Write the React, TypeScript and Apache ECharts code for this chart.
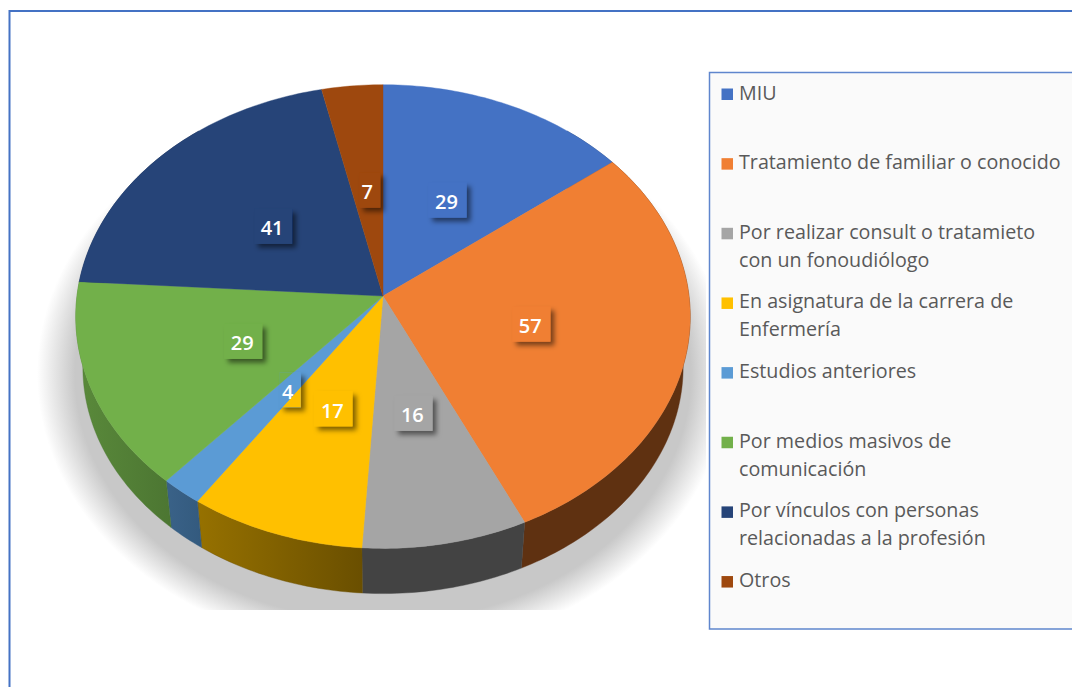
import React, { useEffect, useRef } from "react";
import * as echarts from "echarts";

const categories = [
  "MIU",
  "Tratamiento de familiar o conocido",
  "Por realizar consult o tratamieto\ncon un fonoudiólogo",
  "En asignatura de la carrera de\nEnfermería",
  "Estudios anteriores",
  "Por medios masivos de\ncomunicación",
  "Por vínculos con personas\nrelacionadas a la profesión",
  "Otros",
];
const values = [29, 57, 16, 17, 4, 29, 41, 7];
const topColors = ["#4472c4", "#f07f33", "#a5a5a5", "#ffc000", "#5b9bd5", "#72b04a", "#264478", "#9e480e"];
const wallLeft = ["#2a4674", "#5f3111", "#434343", "#967100", "#3a6288", "#5a8a3b", "#1a2e50", "#5f2b08"];
const wallRight = ["#2a4674", "#5f3111", "#434343", "#6a4f00", "#335a7e", "#4c7632", "#1a2e50", "#5f2b08"];

// Projection of the tilted disc, seen in perspective
const CX = 383;
const CY = 296;
const RX = 306;
const RY = 230;
const PERSP = 0.0887;
const DEPTH = 51;
const BOTTOM_SCALE = 0.977;

const total = values.reduce((a, b) => a + b, 0);
const angleAt = (idx: number) =>
  (values.slice(0, idx).reduce((a, b) => a + b, 0) / total) * Math.PI * 2;

function project(theta: number, r = 1, s = 1, dy = 0): number[] {
  const sin = Math.sin(theta);
  const cos = Math.cos(theta);
  const w = 1 + PERSP * cos * r;
  return [CX + (s * RX * r * sin) / w, CY + dy + (-s * RY * r * cos) / w];
}

function arcPoints(a: number, b: number, s = 1, dy = 0): number[][] {
  const steps = Math.max(2, Math.ceil(((b - a) * 180) / Math.PI));
  const pts: number[][] = [];
  for (let i = 0; i <= steps; i++) pts.push(project(a + ((b - a) * i) / steps, 1, s, dy));
  return pts;
}

function topShape(i: number): number[][] {
  return [[CX, CY], ...arcPoints(angleAt(i), angleAt(i + 1))];
}

const VIS_A = (40 * Math.PI) / 180;
const VIS_B = (320 * Math.PI) / 180;

function renderWall(params: any, api: any) {
  const i = params.dataIndex;
  const a = Math.max(angleAt(i), VIS_A);
  const b = Math.min(angleAt(i + 1), VIS_B);
  if (b <= a) return { type: "group", children: [] };
  const top = arcPoints(a, b);
  const bottom = arcPoints(a, b, BOTTOM_SCALE, DEPTH).reverse();
  const l = wallLeft[i];
  const r = wallRight[i];
  return {
    type: "polygon",
    shape: { points: [...top, ...bottom] },
    style: {
      fill: new echarts.graphic.LinearGradient(0, 0, 1, 0, [
        { offset: 0, color: l },
        { offset: 1, color: r },
      ]),
      stroke: r,
      lineWidth: 0.4,
    },
  };
}

function renderTop(params: any, api: any) {
  const i = params.dataIndex;
  return {
    type: "polygon",
    shape: { points: topShape(i) },
    style: { fill: topColors[i], stroke: topColors[i], lineWidth: 0.4 },
  };
}

function renderLabel(params: any, api: any) {
  const i = params.dataIndex;
  const v = api.value(0);
  const mid = (angleAt(i) + angleAt(i + 1)) / 2;
  const p = project(mid, 0.49);
  const x = p[0];
  const y = p[1] + 3;
  const digits = String(v).length;
  const box = {
    x: x - (digits > 1 ? 18 : 8),
    y: y - 19,
    width: digits > 1 ? 38 : 21,
    height: 35,
  };
  const clipped = values.map((_, j) => ({
    type: "polygon",
    shape: { points: topShape(j) },
    style: { fill: topColors[j] },
    clipPath: { type: "rect", shape: box },
  }));
  return {
    type: "group",
    children: [
      {
        type: "rect",
        shape: box,
        style: {
          fill: topColors[i],
          shadowBlur: 5,
          shadowColor: "rgba(0,0,0,0.5)",
          shadowOffsetX: 4,
          shadowOffsetY: 4,
        },
      },
      ...clipped,
      {
        type: "text",
        x,
        y,
        style: {
          text: String(v),
          fill: "#ffffff",
          font: "600 20px 'Open Sans'",
          align: "center",
          verticalAlign: "middle",
        },
      },
    ],
  };
}

const LEGEND_X = 709.5;
const LEGEND_Y = 72.5;
const LEGEND_W = 370;
const LEGEND_H = 556.5;
const ROW_FIRST = 93;
const ROW_STEP = 69.65;

function legendGraphics(): any[] {
  const out: any[] = [
    {
      type: "rect",
      z: 5,
      shape: { x: LEGEND_X, y: LEGEND_Y, width: LEGEND_W, height: LEGEND_H },
      style: { fill: "#fafafa", stroke: "#5f86cd", lineWidth: 1.5 },
    },
  ];
  categories.forEach((name, i) => {
    const y = ROW_FIRST + i * ROW_STEP;
    out.push({
      type: "rect",
      z: 6,
      shape: { x: 721.5, y: y - 4.5, width: 11.5, height: 11.5 },
      style: { fill: topColors[i] },
    });
    out.push({
      type: "text",
      z: 6,
      x: 739,
      y: y - 15,
      style: {
        text: name,
        fill: "#595959",
        font: "19.7px 'Open Sans'",
        lineHeight: 28,
        align: "left",
        verticalAlign: "top",
      },
    });
  });
  return out;
}

export default function App() {
  const ref = useRef<HTMLDivElement>(null);
  useEffect(() => {
    const chart = echarts.init(ref.current!, null, { renderer: "svg" });
    chart.setOption({
      animation: false,
      backgroundColor: "#ffffff",
      graphic: [
        {
          type: "ellipse",
          z: 0,
          silent: true,
          shape: { cx: 383, cy: 374, rx: 346, ry: 278 },
          style: {
            fill: new echarts.graphic.RadialGradient(0.5, 0.5, 0.5, [
              { offset: 0, color: "#c8c8c8" },
              { offset: 0.89, color: "#c8c8c8" },
              { offset: 1, color: "#ffffff" },
            ]),
          },
        },
        {
          type: "rect",
          z: 1,
          silent: true,
          shape: { x: 0, y: 610, width: 1072, height: 77 },
          style: { fill: "#ffffff" },
        },
        {
          type: "rect",
          z: 1,
          silent: true,
          shape: { x: 706, y: 0, width: 10, height: 687 },
          style: { fill: "#ffffff" },
        },
        {
          type: "polyline",
          z: 7,
          silent: true,
          shape: { points: [[9.5, 687], [9.5, 11], [1072, 11]] },
          style: { fill: "none", stroke: "#4472c4", lineWidth: 2 },
        },
        ...legendGraphics(),
      ],
      series: [
        { type: "custom", coordinateSystem: "none", z: 2, silent: true, data: values, renderItem: renderWall },
        { type: "custom", coordinateSystem: "none", z: 3, silent: true, data: values, renderItem: renderTop },
        { type: "custom", coordinateSystem: "none", z: 4, silent: true, data: values, renderItem: renderLabel },
      ],
    });
    return () => chart.dispose();
  }, []);
  return (
    <div
      ref={ref}
      style={{ position: "fixed", left: 0, top: 0, width: 1072, height: 687 }}
    />
  );
}
